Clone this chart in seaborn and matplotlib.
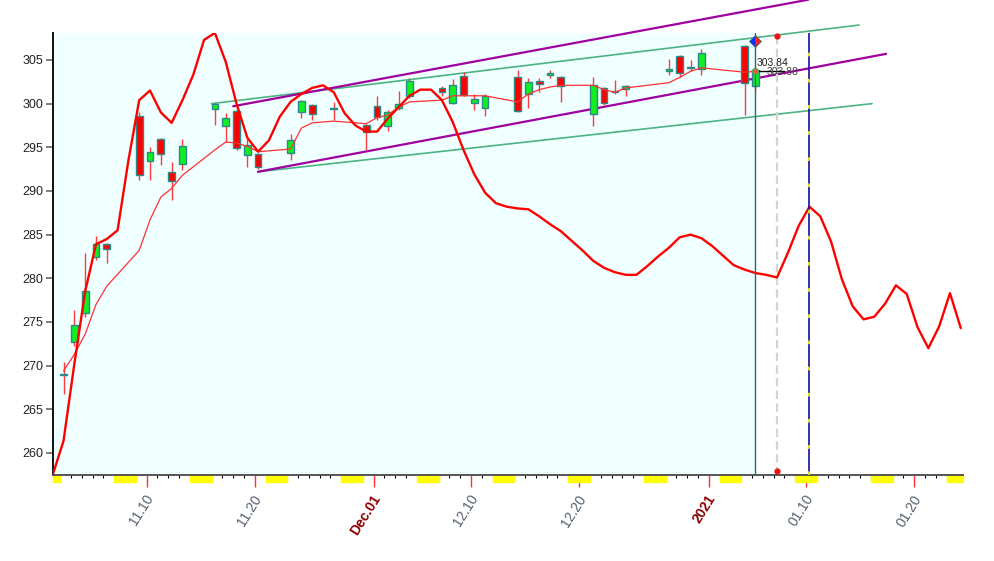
import numpy as np
import pandas as pd
import matplotlib
matplotlib.use("Agg")
import matplotlib.pyplot as plt
import matplotlib.transforms as mtransforms
from matplotlib.patches import Rectangle
import seaborn as sns

# daily candles (open, high, low, close)
candle_dates = ["2020-11-02", "2020-11-03", "2020-11-04", "2020-11-05", "2020-11-06",
                "2020-11-09", "2020-11-10", "2020-11-11", "2020-11-12", "2020-11-13",
                "2020-11-16", "2020-11-17", "2020-11-18", "2020-11-19", "2020-11-20",
                "2020-11-23", "2020-11-24", "2020-11-25", "2020-11-27",
                "2020-11-30", "2020-12-01", "2020-12-02", "2020-12-03", "2020-12-04",
                "2020-12-07", "2020-12-08", "2020-12-09", "2020-12-10", "2020-12-11",
                "2020-12-14", "2020-12-15", "2020-12-16", "2020-12-17", "2020-12-18",
                "2020-12-21", "2020-12-22", "2020-12-23", "2020-12-24",
                "2020-12-28", "2020-12-29", "2020-12-30", "2020-12-31",
                "2021-01-04", "2021-01-05"]
opens = [268.9, 272.7, 276.0, 282.4, 283.9, 298.6, 293.4, 296.0, 292.2, 293.1,
         299.4, 297.4, 299.2, 294.1, 294.2, 294.4, 299.0, 299.9, 299.4,
         297.6, 299.7, 297.4, 299.5, 300.9, 301.8, 300.1, 303.2, 300.1, 299.5,
         303.0, 301.1, 302.6, 303.3, 303.1, 298.8, 301.8, 301.3, 301.7,
         303.7, 305.5, 304.1, 304.0, 306.6, 302.0]
highs = [270.4, 276.4, 282.9, 284.9, 284.0, 299.0, 295.0, 296.1, 293.3, 295.9,
         300.1, 298.9, 299.4, 295.9, 294.4, 296.5, 300.4, 300.0, 300.2,
         297.7, 300.9, 299.3, 301.4, 302.9, 302.0, 302.8, 303.6, 301.1, 301.1,
         303.9, 302.9, 302.9, 303.9, 303.2, 303.0, 301.9, 302.7, 302.1,
         305.1, 305.6, 305.0, 306.2, 306.7, 304.2]
lows = [266.8, 272.2, 275.6, 282.1, 281.8, 291.3, 291.3, 293.0, 289.0, 292.4,
        297.5, 295.6, 294.7, 292.8, 292.5, 293.5, 298.3, 298.1, 298.1,
        294.7, 298.1, 296.9, 299.3, 300.6, 300.9, 300.0, 300.9, 299.3, 298.6,
        299.0, 299.5, 301.3, 302.9, 300.2, 297.4, 299.8, 301.1, 300.9,
        303.3, 303.1, 303.7, 303.3, 298.7, 301.4]
closes = [269.1, 274.6, 278.5, 283.9, 283.4, 291.8, 294.5, 294.2, 291.1, 295.2,
          300.0, 298.3, 294.9, 295.3, 292.7, 295.8, 300.3, 298.8, 299.4,
          296.7, 298.5, 299.1, 300.0, 302.6, 301.3, 302.1, 301.0, 300.5, 300.9,
          299.2, 302.5, 302.2, 303.5, 302.0, 302.1, 300.1, 301.3, 302.0,
          304.0, 303.5, 304.1, 305.8, 302.4, 303.9]
moving_avg = [269.4, 271.3, 273.6, 277.0, 279.1, 283.2, 286.7, 289.3, 290.3, 291.8,
              294.7, 295.6, 295.5, 295.1, 294.5, 294.8, 297.2, 297.8, 298.0,
              297.7, 298.4, 298.7, 299.6, 300.2, 300.4, 300.9, 300.9, 300.9, 300.9,
              300.2, 301.1, 301.6, 301.9, 302.1, 302.1, 301.6, 301.3, 301.8,
              302.4, 303.0, 303.7, 304.1, 303.6, 303.7]

# projection curve, one value per calendar day from 2020-11-01
curve_start = "2020-11-01"
curve_values = [257.5, 261.4, 270.2, 278.5, 283.9, 284.5, 285.5, 293.5, 300.4, 301.5,
                299.0, 297.8, 300.4, 303.3, 307.3, 308.1, 304.8, 300.0, 296.1, 294.5,
                295.8, 298.5, 300.2, 301.1, 301.8, 302.1, 301.3, 298.9, 297.5, 296.8,
                296.8, 298.3, 299.6, 300.9, 301.6, 301.6, 300.4, 297.9, 294.7, 291.9,
                289.8, 288.6, 288.2, 288.0, 287.9, 287.1, 286.2, 285.4, 284.3, 283.2,
                282.0, 281.2, 280.7, 280.4, 280.4, 281.4, 282.5, 283.5, 284.7, 285.0,
                284.6, 283.7, 282.6, 281.5, 281.0, 280.6, 280.4, 280.1, 282.9, 286.0,
                288.2, 287.1, 284.2, 279.9, 276.8, 275.3, 275.6, 277.1, 279.2, 278.2,
                274.4, 272.0, 274.5, 278.3, 274.3]

# channel lines: (days since 2020-11-01, value) at both ends
green_top_x, green_top_y = [15.0, 74.9], [300.0, 309.0]
green_bot_x, green_bot_y = [19.3, 76.1], [292.2, 300.0]
purple_top_x, purple_top_y = [17.0, 70.2], [299.7, 311.9]
purple_bot_x, purple_bot_y = [19.3, 77.4], [292.2, 305.7]

# markers and labels
last_date = "2021-01-05"
gray_date = "2021-01-07"
navy_date = "2021-01-10"
diamond_value = 307.2
red_dot_values = [307.7, 257.9]
price_labels = ["303.84", "303.88"]
price_label_values = [304.65, 303.63]
price_line_value = 303.78

tick_dates = ["2020-11-10", "2020-11-20", "2020-12-01", "2020-12-10",
              "2020-12-20", "2021-01-01", "2021-01-10", "2021-01-20"]
tick_labels = ["11.10", "11.20", "Dec.01", "12.10", "12.20", "2021", "01.10", "01.20"]

OFFSET = 0.31  # marks sit slightly right of the day tick
start = pd.Timestamp(curve_start)


def to_day(dates):
    return np.asarray((pd.to_datetime(dates) - start).days, dtype=float)


sns.set_style("white")
plt.rcParams["font.family"] = ["Liberation Sans", "DejaVu Sans"]

fig = plt.figure(figsize=(9.95, 5.61), dpi=100)
ax = fig.add_axes([0.0530, 0.1533, 0.9149, 0.7879])
ax.set_facecolor("white")
x_right = 84.52
ax.set_xlim(OFFSET, x_right)
ax.set_ylim(257.48, 308.09)

cx = to_day(candle_dates) + OFFSET
last_x = to_day([last_date])[0] + OFFSET
gray_x = to_day([gray_date])[0] + OFFSET
navy_x = to_day([navy_date])[0] + OFFSET

# light background over the traded period
ax.axvspan(OFFSET, last_x, color="#f0ffff", zorder=0)

# channels
ax.plot(green_top_x, green_top_y, color="#4db383", lw=1.2, clip_on=False, zorder=2)
ax.plot(green_bot_x, green_bot_y, color="#4db383", lw=1.2, clip_on=False, zorder=2)
ax.plot(purple_top_x, purple_top_y, color="#a000a0", lw=1.6, clip_on=False, zorder=2)
ax.plot(purple_bot_x, purple_bot_y, color="#a000a0", lw=1.6, clip_on=False, zorder=2)

# candles
o, h, l, c = map(np.array, (opens, highs, lows, closes))
ax.vlines(cx, l, h, color="#ff3b3b", lw=1.0, zorder=3)
body_low = np.minimum(o, c)
body_h = np.maximum(np.abs(c - o), 0.15)
body_col = np.where(c >= o, "#11ee22", "#ff0000")
ax.bar(cx, body_h, bottom=body_low, width=0.62, color=body_col,
       edgecolor="#2a8a8a", linewidth=1.0, zorder=4)

# moving average and projection curve
sns.lineplot(x=cx, y=moving_avg, ax=ax, color="#ff3030", lw=0.9, zorder=5,
             estimator=None, sort=False)
curve_x = to_day(pd.date_range(curve_start, periods=len(curve_values))) + OFFSET
sns.lineplot(x=curve_x, y=curve_values, ax=ax, color="#ff0000", lw=1.7, zorder=6,
             estimator=None, sort=False)

# vertical markers
ax.axvline(last_x, color="#1f6f6f", lw=1.0, zorder=6)
ax.plot([gray_x, gray_x], red_dot_values, color="#d4d4d4", lw=1.6,
        dashes=(3.8, 1.9), zorder=2)
ax.axvline(navy_x, color="#10109a", lw=1.2, zorder=6)
ax.axvline(navy_x, color="#ffff00", lw=1.2, dashes=(2.2, 13.5), zorder=7)
ax.plot([gray_x] * 2, red_dot_values, "o", color="#ee1111", ms=3.5, zorder=8)
ax.plot([last_x], [diamond_value], marker="D", ms=6.5, fillstyle="left",
        markerfacecolor="#1030ff", markerfacecoloralt="#ff2020",
        markeredgecolor="#1f6f6f", markeredgewidth=0.5, zorder=9, clip_on=False)
ax.plot([last_x], [moving_avg[-1]], "o", ms=4, markerfacecolor="#ff5050",
        markeredgecolor="#44aa44", zorder=9)
ax.hlines(price_line_value, last_x + 0.1, last_x + 2.7, color="black", lw=1.0, zorder=8)
ax.text(last_x + 0.12, price_label_values[0], price_labels[0], fontsize=7.5,
        color="#222222", va="center", ha="left", zorder=9)
ax.text(last_x + 1.05, price_label_values[1], price_labels[1], fontsize=7.5,
        color="#444444", va="center", ha="left", zorder=9)

# weekend marks below the axis
trans = mtransforms.blended_transform_factory(ax.transData, ax.transAxes)
for d in pd.date_range("2020-11-01", "2021-01-24"):
    if d.dayofweek >= 5:
        x0 = max(to_day([d])[0], OFFSET)
        x1 = min(to_day([d])[0] + 1, x_right)
        ax.add_patch(Rectangle((x0, -0.0152), x1 - x0, 0.0152, transform=trans,
                               color="#ffff00", clip_on=False, zorder=1))

# axes styling
for side in ["top", "right"]:
    ax.spines[side].set_visible(False)
ax.spines["left"].set_color("#111111")
ax.spines["left"].set_linewidth(1.4)
ax.spines["bottom"].set_color("#555555")
ax.spines["bottom"].set_linewidth(1.4)

ax.set_yticks(np.arange(260, 306, 5))
ax.tick_params(axis="y", length=5, width=1.2, color="#666666", labelsize=9,
               labelcolor="#222222", pad=2, left=True)

ax.set_xticks(to_day(tick_dates))
ax.set_xticks(np.arange(1, 85), minor=True)
ax.tick_params(axis="x", which="major", length=8.6, width=1.0, color="#ff3030",
               pad=6.5, bottom=True)
ax.tick_params(axis="x", which="minor", length=2.5, width=0.8, color="black", bottom=True)
ax.set_xticklabels(tick_labels, rotation=58, ha="right", va="center",
                   rotation_mode="anchor", fontsize=10)
shift = mtransforms.ScaledTranslation(4 / 100, 0, fig.dpi_scale_trans)
for lab, txt in zip(ax.get_xticklabels(), tick_labels):
    lab.set_transform(lab.get_transform() + shift)
    if txt in ("Dec.01", "2021"):
        lab.set_color("#8b0000")
        lab.set_fontweight("bold")
    else:
        lab.set_color("#556070")

ax.set_xlabel("")
ax.set_ylabel("")
fig.savefig("out.png", dpi=100)
